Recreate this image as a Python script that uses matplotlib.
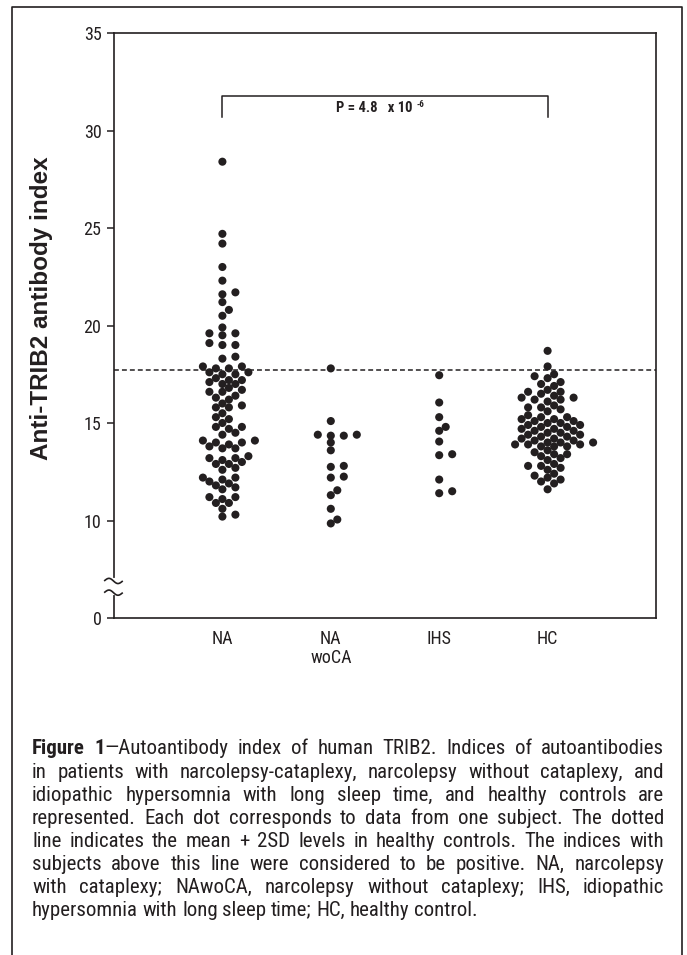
import numpy as np
import matplotlib
matplotlib.use("Agg")
import matplotlib.pyplot as plt
from matplotlib import font_manager
from matplotlib.lines import Line2D

# data
groups = ["NA", "NA\nwoCA", "IHS", "HC"]
na_vals = [28.4, 24.7, 24.2, 23.0, 22.3, 21.7, 21.6, 21.2, 20.8, 20.5, 19.9,
           19.6, 19.6, 19.5, 19.1, 19.0, 19.0, 18.4, 18.3,
           17.9, 17.9, 17.8, 17.8, 17.6, 17.6, 17.5, 17.5,
           17.3, 17.2, 17.2, 17.1, 17.0, 17.0, 16.8, 16.7, 16.6, 16.6,
           16.4, 16.3, 16.2, 16.0, 15.9, 15.8, 15.8, 15.5, 15.3, 15.2, 15.0,
           14.8, 14.8, 14.7, 14.5, 14.4, 14.1, 14.1, 14.0, 14.0, 13.9,
           13.8, 13.7, 13.7, 13.3, 13.2, 13.2, 13.1, 13.0, 12.9, 12.9,
           12.7, 12.6, 12.2, 12.2, 12.1, 12.0, 11.9, 11.8, 11.7, 11.6,
           11.2, 11.2, 11.1, 10.9, 10.9, 10.6, 10.3, 10.2]
nawoca_vals = [17.8, 15.1, 14.4, 14.35, 14.35, 14.4, 14.0, 13.6, 12.8, 12.75,
               12.25, 12.2, 11.55, 11.3, 10.6, 10.05, 9.85]
ihs_vals = [17.45, 16.05, 15.3, 14.8, 14.6, 14.05, 13.4, 13.35, 12.1, 11.5, 11.4]
hc_vals = [18.7, 17.9, 17.5, 17.4, 17.3, 17.1, 17.0, 16.9,
           16.7, 16.6, 16.6, 16.5, 16.4, 16.3, 16.3, 16.2, 16.2, 16.1,
           15.9, 15.8, 15.8, 15.7, 15.6,
           15.4, 15.3, 15.3, 15.2, 15.2, 15.1, 15.1, 15.0,
           15.0, 14.9, 14.9, 14.8, 14.8, 14.7, 14.7, 14.6,
           14.6, 14.5, 14.5, 14.4, 14.4, 14.3, 14.3, 14.2,
           14.2, 14.1, 14.1, 14.0, 14.0, 14.0, 13.9, 13.9, 13.9, 13.8, 13.8, 13.8,
           13.6, 13.5, 13.4, 13.4, 13.3, 13.2, 13.1,
           12.9, 12.8, 12.8, 12.7, 12.6,
           12.4, 12.3, 12.2, 12.1, 12.0, 11.9, 11.6]
cutoff = 17.7
p_main = "P = 4.8   x 10"
p_exp = "-6"
ytick_vals = [5, 10, 15, 20, 25, 30, 35]
ytick_labels = ["0", "10", "15", "20", "25", "30", "35"]

caption_lines = [
    "Figure 1\u2014Autoantibody index of human TRIB2. Indices of autoantibodies",
    "in patients with narcolepsy-cataplexy, narcolepsy without cataplexy, and",
    "idiopathic hypersomnia with long sleep time, and healthy controls are",
    "represented. Each dot corresponds to data from one subject. The dotted",
    "line indicates the mean + 2SD levels in healthy controls. The indices with",
    "subjects above this line were considered to be positive. NA, narcolepsy",
    "with cataplexy; NAwoCA, narcolepsy without cataplexy; IHS, idiopathic",
    "hypersomnia with long sleep time; HC, healthy control.",
]
bold_prefix = "Figure 1"

# condensed face for the labels / caption
names = {f.name for f in font_manager.fontManager.ttflist}
narrow = "Roboto Condensed" if "Roboto Condensed" in names else "Liberation Sans"
plt.rcParams["font.family"] = [narrow, "DejaVu Sans"]

ink = "#231f20"
W, H = 687, 955
fig = plt.figure(figsize=(W / 100, H / 100), dpi=100)

# axes box in pixels
L, R, T, B = 114, 656, 33, 618
ax = fig.add_axes([L / W, 1 - B / H, (R - L) / W, (B - T) / H])
ax.set_xlim(0, 5)
ax.set_ylim(5, 35)
px_per_x = (R - L) / 5
px_per_y = (B - T) / 30


def swarm(vals, dmin=6.8, step=6.5):
    vals = np.asarray(vals)
    placed = []
    offs = np.zeros(len(vals))
    for i in np.argsort(vals):
        y = vals[i] * px_per_y
        cands = [0.0]
        for k in range(1, 25):
            cands += [k * step, -k * step]
        for c in cands:
            if all((c - a) ** 2 + (y - b) ** 2 >= dmin ** 2 for a, b in placed):
                break
        offs[i] = c
        placed.append((c, y))
    return offs / px_per_x


for i, vals in enumerate([na_vals, nawoca_vals, ihs_vals, hc_vals]):
    xs = i + 1 + swarm(vals)
    ax.scatter(xs, vals, s=34, color=ink, edgecolors="none", zorder=3)

ax.axhline(cutoff, color=ink, lw=1.1, ls=(0, (3.2, 2.0)), zorder=2)

# bracket + p value
ax.plot([1, 1, 4, 4], [30.7, 31.75, 31.75, 30.7], color=ink, lw=1.1)
t = ax.text(2.05, 31.15, p_main, fontsize=10.5, fontweight="bold", color=ink,
            va="center", ha="left")
ax.annotate(p_exp, xy=(1, 1), xycoords=t, xytext=(2.5, 0.5), textcoords="offset points",
            fontsize=6.5, fontweight="bold", color=ink, va="top", ha="left")

for s in ax.spines.values():
    s.set_linewidth(1.2)
    s.set_color(ink)

ax.set_yticks(ytick_vals)
ax.set_yticklabels(ytick_labels)
ax.set_xticks([1, 2, 3, 4])
ax.set_xticklabels(groups, linespacing=1.05)
ax.tick_params(axis="y", direction="out", length=5, width=1.1, color=ink,
               labelsize=13, labelcolor=ink, pad=4)
ax.tick_params(axis="x", length=0, labelsize=13, labelcolor=ink, pad=9)

# axis break on the left spine
ax.plot([0, 0], [6.3, 6.95], color="white", lw=3, clip_on=False, zorder=5)
tt = np.linspace(0, 1, 40)
for y0 in [6.3, 6.9]:
    xx = -0.085 + 0.16 * tt
    yy = y0 + 0.12 * np.sin(2 * np.pi * tt) + 0.05 * (0.5 - tt)
    ax.plot(xx, yy, color=ink, lw=1.2, clip_on=False, zorder=6)

fig.text(42 / W, 1 - 308 / H, "Anti-TRIB2 antibody index", rotation=90,
         fontsize=17.5, fontweight="bold", family=["Liberation Sans", "DejaVu Sans"],
         color=ink, ha="center", va="center")

# outer frame
fig.add_artist(Line2D([12 / W, 12 / W, 682 / W, 682 / W], [0, 1 - 7 / H, 1 - 7 / H, 0],
                      transform=fig.transFigure, color=ink, lw=1.2))

# caption, justified
renderer = fig.canvas.get_renderer()
cap_left, cap_right, cap_top, cap_step = 32, 664, 747, 23


def words_of(line, first):
    out = []
    pos = 0
    nb = len(bold_prefix) if first else 0
    for w in line.split(" "):
        start, end = pos, pos + len(w)
        if start >= nb:
            out.append([(w, "normal")])
        elif end <= nb:
            out.append([(w, "bold")])
        else:
            k = nb - start
            out.append([(w[:k], "bold"), (w[k:], "normal")])
        pos = end + 1
    return out


def width_of(txt, weight, size):
    tmp = fig.text(0, 0, txt, fontsize=size, fontweight=weight)
    w = tmp.get_window_extent(renderer).width
    tmp.remove()
    return w


space10 = width_of("a a", "normal", 10) - width_of("aa", "normal", 10)
nat = []
for li, line in enumerate(caption_lines[:-1]):
    ws = words_of(line, li == 0)
    tot = sum(width_of(p, wt, 10) for w in ws for p, wt in w) + space10 * (len(ws) - 1)
    nat.append(tot)
size = min(15.0, 10 * (cap_right - cap_left - 6) / max(nat))
base_shift = 0.36 * size * 100 / 72  # from line centre to baseline, px

for li, line in enumerate(caption_lines):
    ws = words_of(line, li == 0)
    widths = [[width_of(p, wt, size) for p, wt in w] for w in ws]
    tot = sum(sum(w) for w in widths)
    if li < len(caption_lines) - 1:
        gap = (cap_right - cap_left - tot) / (len(ws) - 1)
    else:
        gap = space10 * size / 10
    x = cap_left
    y = 1 - (cap_top + li * cap_step + base_shift) / H
    for w, wd in zip(ws, widths):
        for (p, wt), pw in zip(w, wd):
            fig.text(x / W, y, p, fontsize=size, fontweight=wt, color=ink,
                     ha="left", va="baseline")
            x += pw
        x += gap

fig.savefig("out.png", dpi=100)
